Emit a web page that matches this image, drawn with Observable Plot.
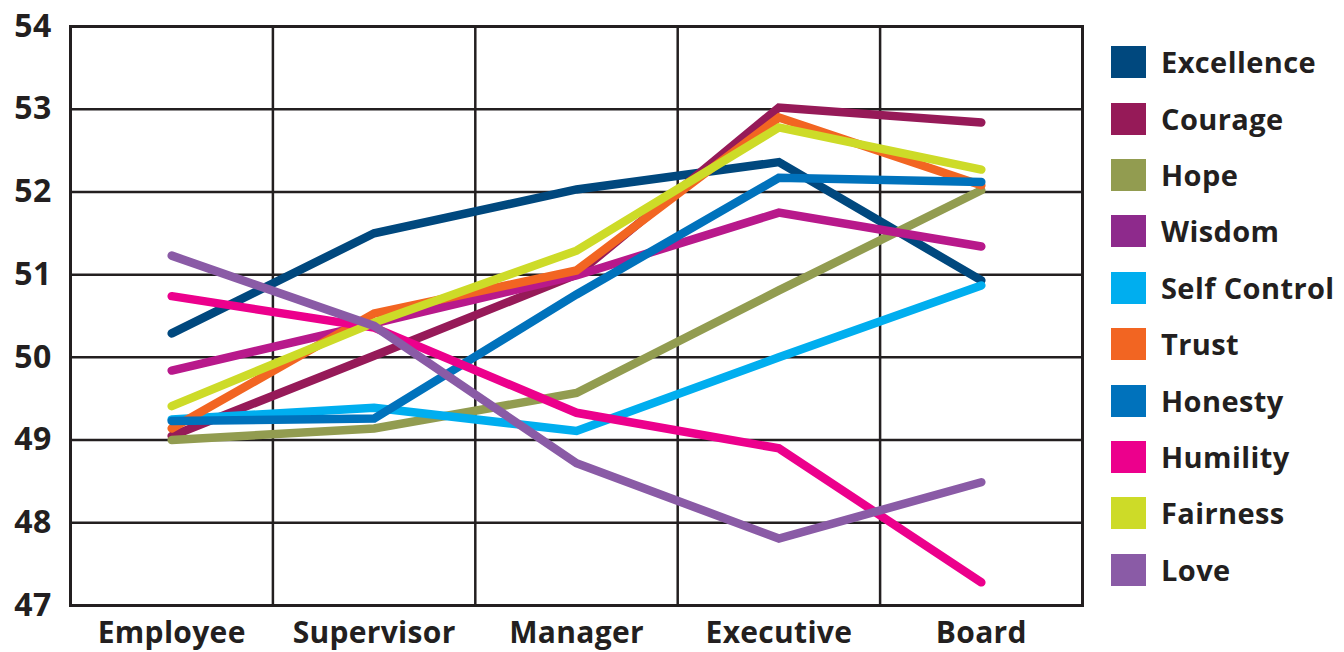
<!DOCTYPE html>
<html>
<head>
<meta charset="utf-8">
<script src="https://cdn.jsdelivr.net/npm/d3@7"></script>
<script src="https://cdn.jsdelivr.net/npm/@observablehq/plot@0.6"></script>
<style>
  html, body { margin: 0; padding: 0; background: #fff; }
  body { width: 1344px; height: 652px; position: relative; overflow: hidden; font-family: "Open Sans", sans-serif; }
  #chart { position: absolute; left: 0; top: 0; }
  #legend { position: absolute; left: 1111px; top: 34px; }
  .item { display: flex; align-items: center; height: 56.4px; }
  .sw { width: 35px; height: 32px; flex: none; }
  .lab { margin-left: 15px; font-weight: 700; font-size: 29px; letter-spacing: 0.4px; color: #231f20; white-space: nowrap; line-height: 32px; }
</style>
</head>
<body>
<div id="chart"></div>
<div id="legend"></div>
<script>
const levels = ["Employee", "Supervisor", "Manager", "Executive", "Board"];
const series = ["Excellence", "Courage", "Hope", "Wisdom", "Self Control", "Trust", "Honesty", "Humility", "Fairness", "Love"];
const lineColors = ["#00487e", "#961a58", "#929c50", "#b8198b", "#00aeef", "#f26522", "#0072bc", "#ec008c", "#cddb28", "#8a5ba6"];
const swatchColors = ["#00487e", "#961a58", "#929c50", "#8e2a8c", "#00aeef", "#f26522", "#0072bc", "#ec008c", "#cddb28", "#8a5ba6"];

const excellence  = [50.29, 51.50, 52.03, 52.36, 50.93];
const courage     = [49.05, 50.02, 51.00, 53.02, 52.84];
const hope        = [49.00, 49.14, 49.57, 50.81, 52.02];
const wisdom      = [49.84, 50.41, 50.99, 51.75, 51.34];
const selfControl = [49.25, 49.39, 49.11, 50.00, 50.87];
const trust       = [49.14, 50.53, 51.05, 52.90, 52.08];
const honesty     = [49.23, 49.26, 50.76, 52.17, 52.12];
const humility    = [50.74, 50.36, 49.33, 48.90, 47.28];
const fairness    = [49.41, 50.42, 51.29, 52.78, 52.27];
const love        = [51.23, 50.38, 48.72, 47.81, 48.49];
const yTicks = [47, 48, 49, 50, 51, 52, 53, 54];

const values = [excellence, courage, hope, wisdom, selfControl, trust, honesty, humility, fairness, love];

const data = [];
series.forEach((s, si) => {
  levels.forEach((lv, li) => {
    data.push({series: s, pos: li + 0.5, value: values[si][li]});
  });
});

const ink = "#231f20";

const chart = Plot.plot({
  width: 1090,
  height: 652,
  marginTop: 26,
  marginBottom: 47,
  marginLeft: 70,
  marginRight: 8,
  style: { fontFamily: "'Open Sans', sans-serif", fontWeight: 700, fontSize: "30px", color: ink, background: "#fff", letterSpacing: "0.3px" },
  x: { domain: [0, levels.length], label: null },
  y: { domain: [47, 54], label: null },
  color: { domain: series, range: lineColors },
  marks: [
    Plot.gridY(yTicks, { stroke: ink, strokeOpacity: 1, strokeWidth: 2.5 }),
    Plot.gridX(d3.range(0, levels.length + 1), { stroke: ink, strokeOpacity: 1, strokeWidth: 2.5 }),
    Plot.frame({ stroke: ink, strokeWidth: 3 }),
    Plot.axisY(yTicks, { tickSize: 0, tickPadding: 19, fontSize: 32, fontWeight: 700, fill: ink, tickFormat: "d" }),
    Plot.axisX(d3.range(levels.length).map(i => i + 0.5), {
      tickSize: 0, tickPadding: 16, fontSize: 30, fontWeight: 700, fill: ink,
      tickFormat: d => levels[Math.floor(d)]
    }),
    Plot.line(data, {
      x: "pos", y: "value", z: "series", stroke: "series",
      strokeWidth: 8.5, strokeLinecap: "round", strokeLinejoin: "miter", strokeMiterlimit: 4
    })
  ]
});
document.getElementById("chart").appendChild(chart);

const legend = document.getElementById("legend");
series.forEach((s, i) => {
  const item = document.createElement("div");
  item.className = "item";
  const sw = document.createElement("div");
  sw.className = "sw";
  sw.style.background = swatchColors[i];
  const lab = document.createElement("div");
  lab.className = "lab";
  lab.textContent = s;
  item.appendChild(sw);
  item.appendChild(lab);
  legend.appendChild(item);
});
</script>
</body>
</html>
